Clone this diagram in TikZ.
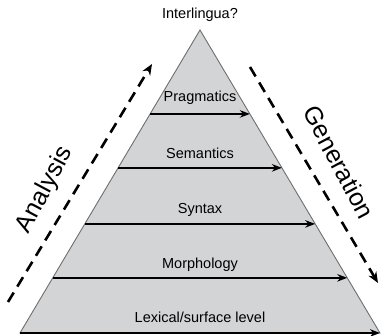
\documentclass[tikz,border=0pt]{standalone}
\usepackage{fontspec}
\setmainfont{Liberation Sans}
\usepackage{tikz}
\usetikzlibrary{calc,arrows.meta,positioning}
\definecolor{pyrgray}{RGB}{211,212,214}
\definecolor{edgegray}{RGB}{110,110,110}

\begin{document}
\begin{tikzpicture}[
  x=1pt, y=-1pt,
  layer/.style={draw=none, fill=none, inner sep=0pt, font=\fontsize{14.5}{17}\selectfont},
  big/.style={inner sep=0pt, font=\fontsize{25}{30}\selectfont},
  levelarrow/.style={draw, line width=1.6pt, -{Stealth[length=10pt,width=7.5pt]}},
  flowarrow/.style={draw, line width=2.6pt, dash pattern=on 11pt off 7pt, -{Stealth[length=11pt,width=9pt]}}
]
\useasboundingbox (0,0) rectangle (384,336);
\coordinate (apex) at (200,30);
\coordinate (bl) at (20,333);
\coordinate (br) at (380,333);
\draw[fill=pyrgray, draw=edgegray, line width=0.9pt] (apex) -- (bl) -- (br) -- cycle;
\node[layer] (inter) at (200,15) {Interlingua?};
\node[layer] (prag) at (200,98) {Pragmatics};
\node[layer] (sem) at (200,153) {Semantics};
\node[layer] (syn) at (200,210) {Syntax};
\node[layer] (morph) at (200,265) {Morphology};
\node[layer] (lex) at (200,317) {Lexical/surface level};
\foreach \t/\n in {0.277/p, 0.455/s, 0.640/y, 0.818/m, 1/l} {
  \coordinate (L\n) at ($(apex)!\t!(bl)$);
  \coordinate (R\n) at ($(apex)!\t!(br)$);
  \draw[levelarrow] (L\n) -- (R\n);
}
\coordinate (anaS) at (8,302);
\coordinate (anaE) at (152,64);
\coordinate (genS) at (250,67);
\coordinate (genE) at (378,283);
\draw[flowarrow] (anaS) -- (anaE);
\draw[flowarrow] (genS) -- (genE);
\node[big, rotate=62] (ana) at (45,190) {Analysis};
\node[big, rotate=-62] (gen) at (339,162) {Generation};
\end{tikzpicture}
\end{document}
